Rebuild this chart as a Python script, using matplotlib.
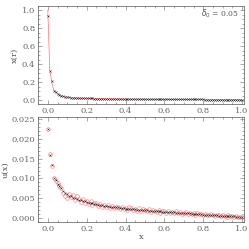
import numpy as np
import matplotlib
matplotlib.use("Agg")
import matplotlib.pyplot as plt
from matplotlib.ticker import MultipleLocator

# grid shared by both panels (step 0.01)
r = np.round(np.arange(0, 101) * 0.01, 2)

# top panel: x(r), measured points and model curve
x_r = [0.93, 0.32, 0.21, 0.100, 0.085, 0.070, 0.060, 0.050, 0.043, 0.038,
       0.033, 0.030, 0.028, 0.026, 0.024, 0.023, 0.022, 0.021, 0.020, 0.0195,
       0.019, 0.0185, 0.018, 0.0175, 0.017, 0.0165, 0.016, 0.0155, 0.015, 0.0145,
       0.014, 0.0137, 0.0134, 0.0131, 0.0128, 0.0125, 0.0122, 0.0119, 0.0116, 0.0113,
       0.011, 0.0108, 0.0106, 0.0104, 0.0102, 0.010, 0.0098, 0.0096, 0.0094, 0.0092,
       0.009, 0.0089, 0.0088, 0.0087, 0.0086, 0.0085, 0.0084, 0.0083, 0.0082, 0.0081,
       0.008, 0.0079, 0.0078, 0.0077, 0.0076, 0.0075, 0.0074, 0.0073, 0.0072, 0.0071,
       0.007, 0.0069, 0.0068, 0.0067, 0.0066, 0.0065, 0.0064, 0.0063, 0.0062, 0.0061,
       0.006, 0.0059, 0.0058, 0.0057, 0.0056, 0.0055, 0.0054, 0.0053, 0.0052, 0.0051,
       0.005, 0.005, 0.005, 0.005, 0.005, 0.005, 0.005, 0.005, 0.005, 0.005, 0.005]
x_model = [1.00, 0.34, 0.20, 0.115, 0.085, 0.068, 0.058, 0.049, 0.042, 0.037,
           0.033, 0.030, 0.028, 0.026, 0.024, 0.023, 0.022, 0.021, 0.020, 0.0195,
           0.019, 0.0185, 0.018, 0.0175, 0.017, 0.0165, 0.016, 0.0155, 0.015, 0.0145,
           0.014, 0.0137, 0.0134, 0.0131, 0.0128, 0.0125, 0.0122, 0.0119, 0.0116, 0.0113,
           0.011, 0.0108, 0.0106, 0.0104, 0.0102, 0.010, 0.0098, 0.0096, 0.0094, 0.0092,
           0.009, 0.0089, 0.0088, 0.0087, 0.0086, 0.0085, 0.0084, 0.0083, 0.0082, 0.0081,
           0.008, 0.0079, 0.0078, 0.0077, 0.0076, 0.0075, 0.0074, 0.0073, 0.0072, 0.0071,
           0.007, 0.0069, 0.0068, 0.0067, 0.0066, 0.0065, 0.0064, 0.0063, 0.0062, 0.0061,
           0.006, 0.0059, 0.0058, 0.0057, 0.0056, 0.0055, 0.0054, 0.0053, 0.0052, 0.0051,
           0.005, 0.005, 0.005, 0.005, 0.005, 0.005, 0.005, 0.005, 0.005, 0.005, 0.005]

# bottom panel: u(x), smooth estimate (black) and noisy estimate (red circles)
u_x = [0.0225, 0.0160, 0.0133, 0.0101, 0.0095, 0.0087, 0.0082, 0.0075, 0.0068, 0.0064,
       0.0060, 0.0057, 0.0055, 0.0052, 0.0050, 0.0048, 0.0046, 0.0045, 0.0043, 0.0042,
       0.0040, 0.0039, 0.0038, 0.0037, 0.0036, 0.0035, 0.0034, 0.0033, 0.0032, 0.0031,
       0.0030, 0.00295, 0.0029, 0.00285, 0.0028, 0.00275, 0.0027, 0.00262, 0.00255, 0.00248,
       0.0024, 0.00235, 0.0023, 0.00226, 0.00222, 0.00218, 0.00214, 0.0021, 0.00206, 0.00202,
       0.0020, 0.00196, 0.00192, 0.00188, 0.00184, 0.0018, 0.00176, 0.00172, 0.00168, 0.00164,
       0.0016, 0.00157, 0.00154, 0.00151, 0.00148, 0.00145, 0.00142, 0.00139, 0.00136, 0.00133,
       0.0013, 0.00126, 0.00122, 0.00118, 0.00114, 0.0011, 0.00106, 0.00102, 0.00098, 0.00094,
       0.0009, 0.00087, 0.00084, 0.00081, 0.00078, 0.00075, 0.00072, 0.00069, 0.00066, 0.00063,
       0.0006, 0.00057, 0.00054, 0.00051, 0.00048, 0.00045, 0.00042, 0.00039, 0.00035, 0.0003, 0.0002]
u_noisy = [0.0225, 0.0161, 0.0132, 0.0102, 0.0094, 0.0088, 0.0080, 0.0077, 0.0063, 0.0057,
           0.0052, 0.0062, 0.0054, 0.0058, 0.0047, 0.0055, 0.0049, 0.0040, 0.0048, 0.0037,
           0.0044, 0.0036, 0.0042, 0.0034, 0.0039, 0.0038, 0.0031, 0.0036, 0.0029, 0.0034,
           0.0027, 0.0032, 0.0026, 0.0030, 0.0025, 0.0029, 0.0028, 0.0023, 0.0029, 0.0024,
           0.0026, 0.0021, 0.0027, 0.0025, 0.0020, 0.0024, 0.0019, 0.0025, 0.0018, 0.0022,
           0.0021, 0.0017, 0.0023, 0.0016, 0.0021, 0.0019, 0.0015, 0.0020, 0.0014, 0.0019,
           0.0017, 0.0013, 0.0018, 0.0014, 0.0016, 0.0012, 0.0017, 0.0013, 0.0015, 0.0011,
           0.0014, 0.0015, 0.0010, 0.0014, 0.0011, 0.0013, 0.0009, 0.0013, 0.0010, 0.0011,
           0.0008, 0.0011, 0.0009, 0.0007, 0.0010, 0.0008, 0.0006, 0.0009, 0.0007, 0.0005,
           0.0008, 0.0006, 0.0004, 0.0007, 0.0005, 0.0006, 0.0003, 0.0005, 0.0004, 0.0002, 0.0003]

plt.rcParams["font.family"] = ["DejaVu Serif"]
plt.rcParams["font.size"] = 6

red = "#ff7070"
grey = "#555555"
fig = plt.figure(figsize=(2.49, 2.49), dpi=100)
ax1 = fig.add_axes([0.153, 0.582, 0.827, 0.394])
ax2 = fig.add_axes([0.153, 0.108, 0.827, 0.422])

ax1.plot(r, x_model, color=red, lw=0.5, zorder=2)
ax1.plot(r, x_r, "x", color="#333333", ms=1.6, mew=0.35, zorder=3)
ax1.set_xlim(-0.05, 1.01)
ax1.set_ylim(-0.045, 1.045)
ax1.set_xlabel("r", labelpad=0, color=grey)
ax1.set_ylabel("x(r)", labelpad=2, color=grey)
ax1.text(0.79, 0.89, r"$\delta_0$ = 0.05", transform=ax1.transAxes,
         fontsize=5.5, color=grey)
ax1.yaxis.set_major_locator(MultipleLocator(0.2))
ax1.yaxis.set_minor_locator(MultipleLocator(0.05))

ax2.plot(r, u_noisy, "o", mfc="none", mec=red, ms=2.6, mew=0.4, zorder=2)
ax2.plot(r, u_x, "x", color="#333333", ms=1.4, mew=0.35, zorder=3)
ax2.set_xlim(-0.05, 1.01)
ax2.set_ylim(-0.001, 0.0255)
ax2.set_xlabel("x", labelpad=0, color=grey)
ax2.set_ylabel("u(x)", labelpad=1, color=grey)
ax2.yaxis.set_major_locator(MultipleLocator(0.005))
ax2.yaxis.set_minor_locator(MultipleLocator(0.001))
ax2.yaxis.set_major_formatter(plt.FormatStrFormatter("%.3f"))

for ax in (ax1, ax2):
    ax.xaxis.set_major_locator(MultipleLocator(0.2))
    ax.xaxis.set_minor_locator(MultipleLocator(0.05))
    ax.tick_params(which="both", direction="in", top=True, right=True,
                   width=0.4, colors="#666666", labelcolor="#666666", pad=2)
    ax.tick_params(which="major", length=3)
    ax.tick_params(which="minor", length=1.5)
    for s in ax.spines.values():
        s.set_linewidth(0.5)
        s.set_color("#555555")

fig.savefig("out.png", dpi=100)
